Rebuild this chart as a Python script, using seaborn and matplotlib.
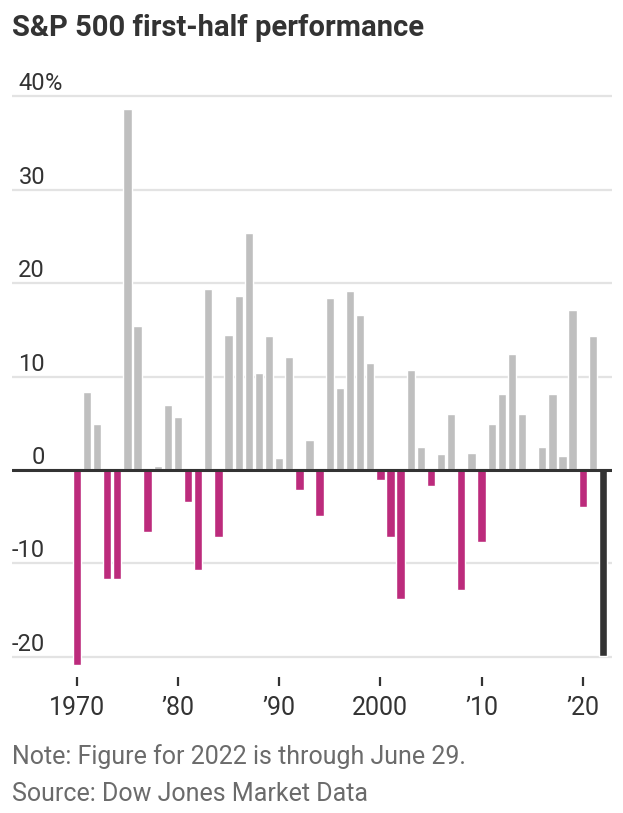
import numpy as np
import pandas as pd
import matplotlib
matplotlib.use('Agg')
import matplotlib.pyplot as plt
import matplotlib.transforms as mtransforms
import seaborn as sns

# First-half S&P 500 change, percent
years = list(range(1970, 2023))
pct_change = [
    -20.9, 8.3, 4.9, -11.7, -11.7, 38.6, 15.4, -6.6, 0.4, 7.0,
    5.7, -3.4, -10.7, 19.4, -7.2, 14.5, 18.6, 25.4, 10.4, 14.3,
    1.3, 12.1, -2.1, 3.2, -4.9, 18.4, 8.8, 19.2, 16.6, 11.5,
    -1.1, -7.2, -13.8, 10.7, 2.5, -1.7, 1.7, 6.0, -12.8, 1.8,
    -7.7, 4.9, 8.1, 12.4, 6.0, 0.0, 2.5, 8.1, 1.5, 17.1,
    -4.0, 14.3, -19.9,
]
xtick_years = [1970, 1980, 1990, 2000, 2010, 2020]
xtick_labels = ['1970', '\u201980', '\u201990', '2000', '\u201910', '\u201920']
ytick_values = [-20, -10, 0, 10, 20, 30, 40]
ytick_labels = ['-20', '-10', '0', '10', '20', '30', '40']

title = 'S&P 500 first-half performance'
note = 'Note: Figure for 2022 is through June 29.'
source = 'Source: Dow Jones Market Data'

colors = {'up': '#bfbfbf', 'down': '#bc2b7c', 'latest': '#333333'}

sns.set_style('white')
plt.rcParams['font.family'] = ['Roboto', 'DejaVu Sans']

df = pd.DataFrame({'year': years, 'pct': pct_change})
df['kind'] = np.where(df['pct'] < 0, 'down', 'up')
df.loc[df['year'] == years[-1], 'kind'] = 'latest'

fig = plt.figure(figsize=(6.23, 8.13), dpi=100)
ax = fig.add_axes([12 / 623, 1 - 677.3 / 813, 600 / 623, (677.3 - 94.5) / 813])

sns.barplot(data=df, x='year', y='pct', hue='kind', palette=colors,
            native_scale=True, dodge=False, width=0.82, saturation=1,
            errorbar=None, legend=False, ax=ax)

ax.set_xlim(1963.6, 2022.89)
ax.set_ylim(-22.2, 40.2)
for s in ax.spines.values():
    s.set_visible(False)
ax.set_xlabel('')
ax.set_ylabel('')

# grid
ax.set_yticks(ytick_values)
ax.yaxis.grid(True, color='#e3e3e3', lw=1.6)
ax.set_axisbelow(True)
ax.axhline(0, color='#333333', lw=2.2, zorder=3)
ax.tick_params(axis='y', left=False, labelleft=False)

# y labels sit above the grid lines
off = mtransforms.offset_copy(ax.get_yaxis_transform(), fig=fig, x=0, y=6, units='dots')
for v, lab in zip(ytick_values, ytick_labels):
    ax.text(33 / 600, v, lab, transform=off, ha='right', va='baseline',
            fontsize=17, color='#333333')
    if v == ytick_values[-1]:
        ax.text(33 / 600, v, '%', transform=off, ha='left', va='baseline',
                fontsize=17, color='#333333')

ax.set_xticks(xtick_years)
ax.set_xticklabels(xtick_labels)
ax.tick_params(axis='x', bottom=True, length=6.5, width=1.6, color='#333333',
               pad=7, labelsize=18, labelcolor='#333333')

fig.text(12 / 623, 1 - 36.5 / 813, title, fontsize=21, fontweight='bold',
         color='#333333', va='baseline', ha='left')
fig.text(12 / 623, 1 - 764 / 813, note, fontsize=18, color='#6b6b6b',
         va='baseline', ha='left')
fig.text(12 / 623, 1 - 801 / 813, source, fontsize=18, color='#6b6b6b',
         va='baseline', ha='left')

fig.savefig('out.png', dpi=100)
